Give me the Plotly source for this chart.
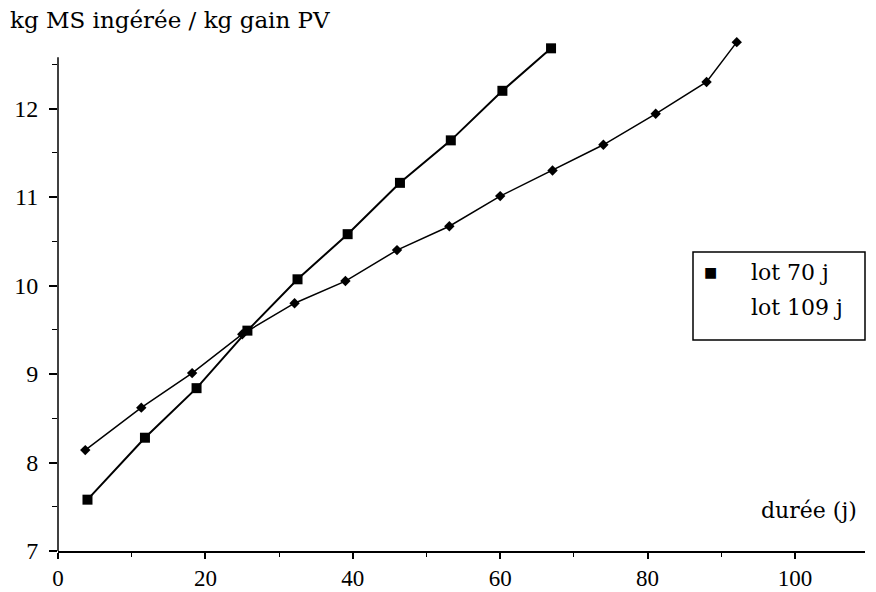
import plotly.graph_objects as go

# Data
lot70_x = [4.0, 11.8, 18.8, 25.7, 32.5, 39.3, 46.4, 53.3, 60.3, 66.9]
lot70_y = [7.58, 8.28, 8.84, 9.49, 10.07, 10.58, 11.16, 11.64, 12.20, 12.68]
lot109_x = [3.7, 11.3, 18.2, 25.0, 32.1, 39.0, 46.0, 53.1, 60.0, 67.1, 74.0, 81.1, 88.0, 92.1]
lot109_y = [8.14, 8.62, 9.01, 9.45, 9.80, 10.05, 10.40, 10.67, 11.01, 11.30, 11.59, 11.94, 12.30, 12.75]

x_ticks = [0, 20, 40, 60, 80, 100]
y_ticks = [7, 8, 9, 10, 11, 12]
y_axis_top = 12.58

TICKFONT = "Liberation Serif"
TEXTFONT = "DejaVu Serif"

fig = go.Figure()
fig.add_trace(go.Scatter(
    x=lot109_x, y=lot109_y, mode="lines+markers", name="lot 109 j",
    line=dict(color="black", width=1.5),
    marker=dict(symbol="diamond", size=8, color="black"),
    showlegend=False, cliponaxis=False))
fig.add_trace(go.Scatter(
    x=lot70_x, y=lot70_y, mode="lines+markers", name="lot 70 j",
    line=dict(color="black", width=2),
    marker=dict(symbol="square", size=10, color="black"),
    showlegend=False, cliponaxis=False))

W, H = 876, 592
L, R, T, B = 58, 11, 33, 41
px_per_unit_y = 88.5
y_top = 7 + (H - T - B) / px_per_unit_y

fig.update_layout(
    width=W, height=H,
    margin=dict(l=L, r=R, t=T, b=B, pad=0, autoexpand=False),
    paper_bgcolor="white", plot_bgcolor="white",
    font=dict(family=TICKFONT, size=24, color="black"),
    xaxis=dict(range=[0, 109.5], tickvals=x_ticks, ticktext=[str(v) for v in x_ticks],
               automargin=False,
               showline=True, linecolor="black", linewidth=1.5, showgrid=False, zeroline=False,
               ticks="outside", ticklen=6, tickwidth=1.5, tickcolor="black",
               tickfont=dict(size=23),
               minor=dict(dtick=10, tick0=0, ticks="outside", ticklen=4, tickwidth=1.2, tickcolor="black")),
    yaxis=dict(range=[7, y_top], tickvals=y_ticks, ticktext=[str(v) for v in y_ticks],
               automargin=False,
               showline=False, showgrid=False, zeroline=False,
               ticks="outside", ticklen=8, tickwidth=1.5, tickcolor="black",
               ticklabelstandoff=6, tickfont=dict(size=24),
               minor=dict(dtick=0.5, tick0=7, ticks="outside", ticklen=5, tickwidth=1.2, tickcolor="black")),
)

# y axis line stopping below the top of the plot area
fig.add_shape(type="line", xref="paper", yref="y", x0=0, x1=0, y0=7, y1=y_axis_top,
              line=dict(color="black", width=1.5), layer="above")

pw, ph = W - L - R, H - T - B
def px(x): return (x - L) / pw
def py(y): return (H - B - y) / ph

# legend box
fig.add_shape(type="rect", xref="paper", yref="paper",
              x0=px(693), x1=px(865), y0=py(340), y1=py(252),
              line=dict(color="black", width=1.5), fillcolor="white", layer="above")
fig.add_annotation(xref="paper", yref="paper", x=px(710), y=py(272), text="■",
                   showarrow=False, font=dict(size=14, family=TEXTFONT), xanchor="center", yanchor="middle")
fig.add_annotation(xref="paper", yref="paper", x=px(749), y=py(272), text="lot 70 j",
                   showarrow=False, xanchor="left", yanchor="middle", font=dict(family=TEXTFONT, size=22))
fig.add_annotation(xref="paper", yref="paper", x=px(749), y=py(307), text="lot 109 j",
                   showarrow=False, xanchor="left", yanchor="middle", font=dict(family=TEXTFONT, size=22))

# axis titles
fig.add_annotation(xref="paper", yref="paper", x=px(8), y=py(20), text="kg MS ingérée / kg gain PV",
                   showarrow=False, xanchor="left", yanchor="middle", font=dict(family=TEXTFONT, size=23))
fig.add_annotation(xref="paper", yref="paper", x=px(859), y=py(510), text="durée (j)",
                   showarrow=False, xanchor="right", yanchor="middle", font=dict(family=TEXTFONT, size=22))

fig.write_html("out.html")
